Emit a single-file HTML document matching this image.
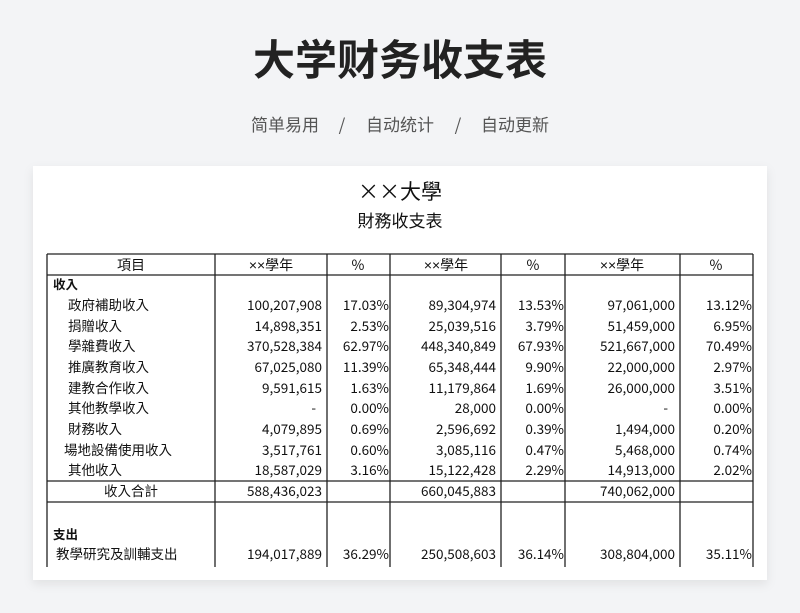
<!DOCTYPE html>
<html><head><meta charset="utf-8"><style>
html,body{margin:0;padding:0;background:#f3f4f6;width:800px;height:613px;overflow:hidden}
svg{display:block}
text{font-family:"Noto Sans CJK TC","Liberation Sans",sans-serif;fill:#111}
.x{font-family:"Liberation Sans",sans-serif}
</style></head><body>
<svg width="800" height="613" viewBox="0 0 800 613">
<defs><filter id="sh" x="-5%" y="-5%" width="110%" height="115%"><feDropShadow dx="0" dy="4" stdDeviation="5" flood-color="#000" flood-opacity="0.08"/></filter></defs>
<text x="400" y="75" text-anchor="middle" font-size="42" font-weight="bold" style="font-family:'Noto Sans CJK SC',sans-serif;fill:#222">大学财务收支表</text>
<g font-size="17" style="font-family:'Noto Sans CJK SC',sans-serif" text-anchor="middle">
<text x="285" y="131" style="fill:#555">简单易用</text>
<text x="342" y="131" style="fill:#555">/</text>
<text x="400" y="131" style="fill:#555">自动统计</text>
<text x="458" y="131" style="fill:#555">/</text>
<text x="515" y="131" style="fill:#555">自动更新</text>
</g>
<rect x="33" y="166" width="734" height="414" fill="#fff" filter="url(#sh)"/>
<text x="400" y="199" text-anchor="middle" font-size="21">××大學</text>
<text x="400" y="227" text-anchor="middle" font-size="17">財務收支表</text>
<g stroke="#222" stroke-width="1.3" fill="none">
<line x1="47" y1="254" x2="753" y2="254"/>
<line x1="47" y1="275" x2="753" y2="275"/>
<line x1="47" y1="481" x2="753" y2="481"/>
<line x1="47" y1="502" x2="753" y2="502"/>
<line x1="47" y1="254" x2="47" y2="567"/>
<line x1="215" y1="254" x2="215" y2="567"/>
<line x1="327" y1="254" x2="327" y2="567"/>
<line x1="390" y1="254" x2="390" y2="567"/>
<line x1="501" y1="254" x2="501" y2="567"/>
<line x1="565" y1="254" x2="565" y2="567"/>
<line x1="680" y1="254" x2="680" y2="567"/>
<line x1="753" y1="254" x2="753" y2="567"/>
</g>
<g font-size="14">
<text x="131" y="270" text-anchor="middle">項目</text>
<text x="271" y="270" text-anchor="middle"><tspan class="x">××</tspan>學年</text>
<text x="358" y="270" text-anchor="middle">%</text>
<text x="446" y="270" text-anchor="middle"><tspan class="x">××</tspan>學年</text>
<text x="533" y="270" text-anchor="middle">%</text>
<text x="622" y="270" text-anchor="middle"><tspan class="x">××</tspan>學年</text>
<text x="716" y="270" text-anchor="middle">%</text>
<text x="53" y="289" font-weight="bold" font-size="12.5">收入</text>
</g>
<g font-size="13.5" id="rows">
<g transform="translate(0,310)"><text x="68">政府補助收入</text><text x="322" text-anchor="end">100,207,908</text><text x="389" text-anchor="end">17.03%</text><text x="496" text-anchor="end">89,304,974</text><text x="564" text-anchor="end">13.53%</text><text x="675" text-anchor="end">97,061,000</text><text x="752" text-anchor="end">13.12%</text></g>
<g transform="translate(0,331)"><text x="68">捐贈收入</text><text x="322" text-anchor="end">14,898,351</text><text x="389" text-anchor="end">2.53%</text><text x="496" text-anchor="end">25,039,516</text><text x="564" text-anchor="end">3.79%</text><text x="675" text-anchor="end">51,459,000</text><text x="752" text-anchor="end">6.95%</text></g>
<g transform="translate(0,351)"><text x="68">學雜費收入</text><text x="322" text-anchor="end">370,528,384</text><text x="389" text-anchor="end">62.97%</text><text x="496" text-anchor="end">448,340,849</text><text x="564" text-anchor="end">67.93%</text><text x="675" text-anchor="end">521,667,000</text><text x="752" text-anchor="end">70.49%</text></g>
<g transform="translate(0,372)"><text x="68">推廣教育收入</text><text x="322" text-anchor="end">67,025,080</text><text x="389" text-anchor="end">11.39%</text><text x="496" text-anchor="end">65,348,444</text><text x="564" text-anchor="end">9.90%</text><text x="675" text-anchor="end">22,000,000</text><text x="752" text-anchor="end">2.97%</text></g>
<g transform="translate(0,393)"><text x="68">建教合作收入</text><text x="322" text-anchor="end">9,591,615</text><text x="389" text-anchor="end">1.63%</text><text x="496" text-anchor="end">11,179,864</text><text x="564" text-anchor="end">1.69%</text><text x="675" text-anchor="end">26,000,000</text><text x="752" text-anchor="end">3.51%</text></g>
<g transform="translate(0,413)"><text x="68">其他教學收入</text><text x="316" text-anchor="end">-</text><text x="389" text-anchor="end">0.00%</text><text x="496" text-anchor="end">28,000</text><text x="564" text-anchor="end">0.00%</text><text x="668" text-anchor="end">-</text><text x="752" text-anchor="end">0.00%</text></g>
<g transform="translate(0,434)"><text x="68">財務收入</text><text x="322" text-anchor="end">4,079,895</text><text x="389" text-anchor="end">0.69%</text><text x="496" text-anchor="end">2,596,692</text><text x="564" text-anchor="end">0.39%</text><text x="675" text-anchor="end">1,494,000</text><text x="752" text-anchor="end">0.20%</text></g>
<g transform="translate(0,455)"><text x="64">場地設備使用收入</text><text x="322" text-anchor="end">3,517,761</text><text x="389" text-anchor="end">0.60%</text><text x="496" text-anchor="end">3,085,116</text><text x="564" text-anchor="end">0.47%</text><text x="675" text-anchor="end">5,468,000</text><text x="752" text-anchor="end">0.74%</text></g>
<g transform="translate(0,475)"><text x="68">其他收入</text><text x="322" text-anchor="end">18,587,029</text><text x="389" text-anchor="end">3.16%</text><text x="496" text-anchor="end">15,122,428</text><text x="564" text-anchor="end">2.29%</text><text x="675" text-anchor="end">14,913,000</text><text x="752" text-anchor="end">2.02%</text></g>
<g transform="translate(0,496)"><text x="131" text-anchor="middle">收入合計</text><text x="322" text-anchor="end">588,436,023</text><text x="496" text-anchor="end">660,045,883</text><text x="675" text-anchor="end">740,062,000</text></g>
<text x="53" y="539" font-weight="bold" font-size="12.5">支出</text>
<g transform="translate(0,559)"><text x="56">教學研究及訓輔支出</text><text x="322" text-anchor="end">194,017,889</text><text x="389" text-anchor="end">36.29%</text><text x="496" text-anchor="end">250,508,603</text><text x="564" text-anchor="end">36.14%</text><text x="675" text-anchor="end">308,804,000</text><text x="752" text-anchor="end">35.11%</text></g>
</g>
</svg>
</body></html>
